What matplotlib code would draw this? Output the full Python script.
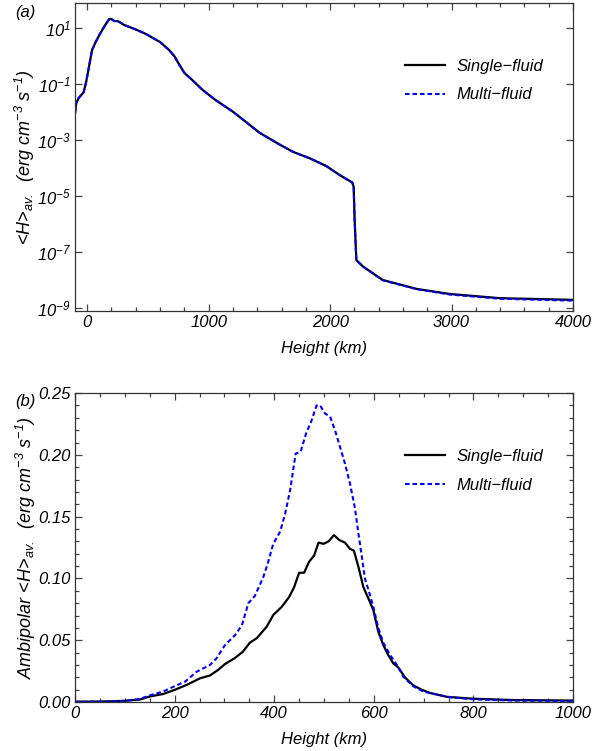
import numpy as np
import matplotlib
matplotlib.use("Agg")
import matplotlib.pyplot as plt
from matplotlib.ticker import FixedLocator, MultipleLocator, FuncFormatter

plt.rcParams['font.family'] = ['Liberation Sans', 'DejaVu Sans']
plt.rcParams['font.style'] = 'italic'
plt.rcParams['mathtext.fontset'] = 'custom'
plt.rcParams['mathtext.it'] = 'Liberation Sans:italic'
plt.rcParams['mathtext.rm'] = 'Liberation Sans:italic'
plt.rcParams['mathtext.default'] = 'it'

# ---------------- Panel (a) data: height (km) and log10 <H>
height_a = [-100, -90, -70, -50, -30, -10, 10, 40, 70, 100, 140, 181, 200, 223, 250,
            280, 305, 400, 487, 600, 676, 720, 760, 800, 866, 950, 1050, 1200, 1268,
            1419, 1584, 1693, 1831, 1969, 2078, 2183, 2194, 2202, 2216, 2271, 2433,
            2713, 2985, 3398, 4000]
log_single_a = [-2.05, -1.68, -1.50, -1.40, -1.30, -0.96, -0.50, 0.21, 0.50, 0.75, 1.05,
                1.32, 1.32, 1.25, 1.25, 1.18, 1.11, 0.95, 0.78, 0.50, 0.21, -0.02, -0.32,
                -0.60, -0.86, -1.21, -1.55, -1.99, -2.22, -2.74, -3.16, -3.42, -3.65,
                -3.93, -4.25, -4.52, -4.67, -5.86, -7.29, -7.52, -8.00, -8.32, -8.50,
                -8.65, -8.71]
log_multi_a = [-2.05, -1.68, -1.50, -1.40, -1.30, -0.96, -0.50, 0.21, 0.50, 0.75, 1.05,
               1.32, 1.32, 1.25, 1.25, 1.18, 1.11, 0.95, 0.78, 0.50, 0.21, -0.02, -0.32,
               -0.60, -0.86, -1.21, -1.55, -1.99, -2.22, -2.74, -3.16, -3.42, -3.65,
               -3.93, -4.25, -4.52, -4.67, -5.86, -7.29, -7.52, -8.01, -8.33, -8.52,
               -8.67, -8.74]

# ---------------- Panel (b) data: ambipolar heating
height_b_single = [0, 50, 80, 100, 130, 150, 177, 201, 225, 251, 271, 287, 301, 321, 337,
                   351, 365, 385, 398, 415, 430, 440, 450, 460, 470, 480, 489, 499, 509,
                   520, 531, 542, 552, 560, 569, 579, 589, 599, 609, 619, 629, 639, 649,
                   663, 679, 696, 713, 747, 799, 880, 1000]
h_single_b = [0.0003, 0.0004, 0.0007, 0.0010, 0.0020, 0.0045, 0.0065, 0.0100, 0.0140,
              0.0192, 0.0215, 0.0259, 0.0307, 0.0356, 0.0407, 0.0480, 0.0517, 0.0610,
              0.0704, 0.0770, 0.0850, 0.0930, 0.1046, 0.1046, 0.1135, 0.1185, 0.1290,
              0.1280, 0.1300, 0.1350, 0.1310, 0.1290, 0.1240, 0.1225, 0.1095, 0.0930,
              0.0839, 0.0744, 0.0569, 0.0461, 0.0380, 0.0313, 0.0280, 0.0197, 0.0135,
              0.0100, 0.0073, 0.0042, 0.0027, 0.0016, 0.0012]
height_b_multi = [0, 50, 80, 100, 130, 151, 177, 201, 221, 244, 271, 284, 301, 321, 335,
                  348, 361, 378, 388, 398, 412, 422, 432, 443, 453, 464, 474, 485, 492,
                  502, 512, 522, 532, 542, 552, 562, 569, 576, 582, 592, 599, 609, 619,
                  632, 642, 649, 659, 679, 699, 750, 800, 880, 1000]
h_multi_b = [0.0002, 0.0003, 0.0006, 0.0010, 0.0025, 0.0055, 0.0085, 0.0130, 0.0165,
             0.0245, 0.0300, 0.0353, 0.0460, 0.0540, 0.0620, 0.0800, 0.0858, 0.1010,
             0.1135, 0.1280, 0.1380, 0.1526, 0.1715, 0.2010, 0.2025, 0.2174, 0.2267,
             0.2400, 0.2400, 0.2335, 0.2310, 0.2200, 0.2066, 0.1930, 0.1770, 0.1570,
             0.1365, 0.1175, 0.1000, 0.0870, 0.0770, 0.0600, 0.0480, 0.0385, 0.0325,
             0.0285, 0.0205, 0.0128, 0.0085, 0.0040, 0.0022, 0.0012, 0.0008]

labels = ["Single\u2212fluid", "Multi\u2212fluid"]

fig = plt.figure(figsize=(6.06, 7.51), dpi=100)
ax1 = fig.add_axes([0.1238, 0.5859, 0.8218, 0.410])
ax2 = fig.add_axes([0.1238, 0.0652, 0.8218, 0.4114])

dash = (0, (2.2, 1.4))
fs = 12
lfs = 13

# Panel (a)
ax1.plot(height_a, 10.0 ** np.array(log_single_a), color='black', lw=1.6, label=labels[0])
ax1.plot(height_a, 10.0 ** np.array(log_multi_a), color='#0000ff', lw=1.5, ls=dash, label=labels[1])
ax1.set_yscale('log')
ax1.set_xlim(-100, 4000)
ax1.set_ylim(7.8e-10, 78)
ax1.xaxis.set_major_locator(MultipleLocator(1000))
ax1.xaxis.set_minor_locator(MultipleLocator(200))
yt = [1e1, 1e-1, 1e-3, 1e-5, 1e-7, 1e-9]
ax1.yaxis.set_major_locator(FixedLocator(yt))
ax1.yaxis.set_minor_locator(FixedLocator([]))
ax1.yaxis.set_major_formatter(FuncFormatter(lambda v, p: r"$10^{%d}$" % int(round(np.log10(v)))))
ax1.set_xlabel("Height (km)", fontsize=fs, labelpad=8)
ax1.set_ylabel(r"<$H$>$_{av.}$  (erg cm$^{-3}$ s$^{-1}$)", fontsize=lfs, labelpad=0)
ax1.legend(frameon=False, loc='upper left', bbox_to_anchor=(0.662, 0.818),
           borderaxespad=0, borderpad=0, handlelength=2.4, handletextpad=0.7,
           labelspacing=0.8, fontsize=fs)

# Panel (b)
ax2.plot(height_b_single, h_single_b, color='black', lw=1.6, label=labels[0])
ax2.plot(height_b_multi, h_multi_b, color='#0000ff', lw=1.5, ls=dash, label=labels[1])
ax2.set_xlim(0, 1000)
ax2.set_ylim(0, 0.25)
ax2.xaxis.set_major_locator(MultipleLocator(200))
ax2.xaxis.set_minor_locator(MultipleLocator(50))
ax2.yaxis.set_major_locator(MultipleLocator(0.05))
ax2.yaxis.set_minor_locator(MultipleLocator(0.01))
ax2.yaxis.set_major_formatter(FuncFormatter(lambda v, p: "%.2f" % v))
ax2.set_xlabel("Height (km)", fontsize=fs, labelpad=8)
ax2.set_ylabel(r"Ambipolar <$H$>$_{av.}$  (erg cm$^{-3}$ s$^{-1}$)", fontsize=lfs, labelpad=0)
ax2.legend(frameon=False, loc='upper left', bbox_to_anchor=(0.662, 0.818),
           borderaxespad=0, borderpad=0, handlelength=2.4, handletextpad=0.7,
           labelspacing=0.8, fontsize=fs)

for ax in (ax1, ax2):
    ax.tick_params(which='both', direction='in', top=True, right=True, labelsize=fs,
                   color='#444444', width=0.9)
    ax.tick_params(which='major', length=5, pad=3)
    ax.tick_params(which='minor', length=3)
    for s in ax.spines.values():
        s.set_linewidth(0.9)
        s.set_color('#333333')

fig.text(0.025, 0.984, "(a)", fontsize=fs, ha='left', va='center')
fig.text(0.025, 0.466, "(b)", fontsize=fs, ha='left', va='center')

fig.savefig("out.png", dpi=100)
